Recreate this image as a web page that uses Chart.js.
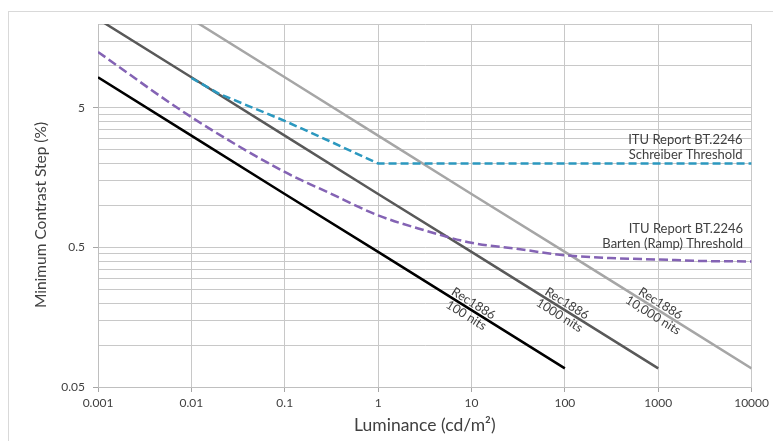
<!DOCTYPE html>
<html>
<head>
<meta charset="utf-8">
<script src="https://cdn.jsdelivr.net/npm/chart.js@4.4.1/dist/chart.umd.min.js"></script>
<style>
  html, body { margin: 0; padding: 0; background: #fff; overflow: hidden; }
  #wrap { position: relative; width: 773px; height: 441px; }
  #frame { position: absolute; left: 8px; top: 11px; width: 800px; height: 500px;
           border-left: 1px solid #d9d9d9; border-top: 1px solid #d9d9d9; }
  canvas { position: absolute; left: 0; top: 0; }
</style>
</head>
<body>
<div id="wrap">
  <div id="frame"></div>
  <canvas id="chart" width="773" height="441"></canvas>
</div>
<script>
// luminance (cd/m2) on x, minimum contrast step (%) on y
const xTickValues = [0.001, 0.01, 0.1, 1, 10, 100, 1000, 10000];
const yLabelValues = [0.05, 0.5, 5];
const yGridValues = [0.05, 0.1, 0.15, 0.2, 0.25, 0.3, 0.35, 0.4, 0.45,
                     0.5, 1, 1.5, 2, 2.5, 3, 3.5, 4, 4.5,
                     5, 10, 15, 20];

const schreiberX = [0.01, 0.02, 0.1, 0.3, 1, 10, 100, 1000, 10000];
const schreiberY = [8.2, 6.3, 4.04, 2.9, 2.0, 2.0, 2.0, 2.0, 2.0];

const bartenX = [0.001, 0.01, 0.1, 0.3, 1, 3, 10, 30, 100, 300, 1000, 3000, 10000];
const bartenY = [12.6, 4.3, 1.74, 1.23, 0.85, 0.67, 0.54, 0.49, 0.44, 0.42, 0.41, 0.40, 0.397];

const rec100X = [0.001, 0.01, 0.1, 1, 10, 100];
const rec100Y = [8.3, 3.17, 1.21, 0.465, 0.178, 0.068];

const rec1000X = [0.001, 0.01, 0.1, 1, 10, 100, 1000];
const rec1000Y = [21.7, 8.3, 3.17, 1.21, 0.465, 0.178, 0.068];

const rec10000X = [0.01, 0.1, 1, 10, 100, 1000, 10000];
const rec10000Y = [21.7, 8.3, 3.17, 1.21, 0.465, 0.178, 0.068];

const toPoints = (xs, ys) => xs.map((x, i) => ({ x: x, y: ys[i] }));

const FONT = 'Lato, "Open Sans", sans-serif';
const TEXT = '#404040';

// text notes placed in data coordinates
const notes = [
  { lines: ['ITU Report BT.2246', 'Schreiber Threshold'], x: 8000, y: 2.3, align: 'right' },
  { lines: ['ITU Report BT.2246', 'Barten (Ramp) Threshold'], x: 8100, y: 0.533, align: 'right' },
  { lines: ['Rec1886', '100 nits'], x: 9.6, y: 0.18, align: 'center', slanted: true },
  { lines: ['Rec1886', '1000 nits'], x: 96, y: 0.18, align: 'center', slanted: true },
  { lines: ['Rec1886', '10,000 nits'], x: 966, y: 0.18, align: 'center', slanted: true }
];

const notesPlugin = {
  id: 'notes',
  afterDatasetsDraw(chart) {
    const { ctx, scales: { x, y } } = chart;
    // slope of the Rec1886 lines in pixels
    const p0x = x.getPixelForValue(rec100X[0]), p0y = y.getPixelForValue(rec100Y[0]);
    const p1x = x.getPixelForValue(rec100X[rec100X.length - 1]);
    const p1y = y.getPixelForValue(rec100Y[rec100Y.length - 1]);
    const angle = Math.atan2(p1y - p0y, p1x - p0x);

    ctx.save();
    ctx.fillStyle = TEXT;
    ctx.textBaseline = 'middle';
    notes.forEach(n => {
      const px = x.getPixelForValue(n.x);
      const py = y.getPixelForValue(n.y);
      ctx.save();
      ctx.translate(px, py);
      if (n.slanted) {
        ctx.rotate(angle);
        ctx.font = '12.5px ' + FONT;
        ctx.textAlign = 'center';
        ctx.fillText(n.lines[0], 0, -7);
        ctx.fillText(n.lines[1], 0, 7);
      } else {
        ctx.font = '13px ' + FONT;
        ctx.textAlign = n.align;
        ctx.fillText(n.lines[0], 0, -15);
        ctx.fillText(n.lines[1], 0, 0);
      }
      ctx.restore();
    });

    // y axis title
    ctx.save();
    ctx.translate(40.5, 215);
    ctx.rotate(-Math.PI / 2);
    ctx.font = '15.5px ' + FONT;
    ctx.textAlign = 'center';
    ctx.fillText('Minimum Contrast Step (%)', 0, 0);
    ctx.restore();
    ctx.restore();
  }
};

new Chart(document.getElementById('chart'), {
  type: 'line',
  data: {
    datasets: [
      {
        label: 'Schreiber Threshold',
        data: toPoints(schreiberX, schreiberY),
        borderColor: '#2b98bf',
        borderWidth: 2.5,
        borderDash: [8, 4]
      },
      {
        label: 'Barten (Ramp) Threshold',
        data: toPoints(bartenX, bartenY),
        borderColor: '#8463b4',
        borderWidth: 2.5,
        borderDash: [9, 4],
        cubicInterpolationMode: 'monotone'
      },
      {
        label: 'Rec1886 100 nits',
        data: toPoints(rec100X, rec100Y),
        borderColor: '#000000',
        borderWidth: 2.5
      },
      {
        label: 'Rec1886 1000 nits',
        data: toPoints(rec1000X, rec1000Y),
        borderColor: '#595959',
        borderWidth: 2.5
      },
      {
        label: 'Rec1886 10,000 nits',
        data: toPoints(rec10000X, rec10000Y),
        borderColor: '#a6a6a6',
        borderWidth: 2.5
      }
    ]
  },
  options: {
    responsive: false,
    animation: false,
    events: [],
    layout: { padding: { left: 0, top: 24, right: 21, bottom: 0 } },
    elements: { point: { radius: 0 }, line: { tension: 0, fill: false } },
    plugins: { legend: { display: false }, tooltip: { enabled: false } },
    scales: {
      x: {
        type: 'logarithmic',
        min: 0.001,
        max: 10000,
        afterBuildTicks: s => { s.ticks = xTickValues.map(v => ({ value: v })); },
        afterFit: s => { s.height = 54; },
        ticks: {
          autoSkip: false,
          maxRotation: 0,
          minRotation: 0,
          padding: 4,
          color: TEXT,
          font: { family: FONT, size: 12 },
          callback: v => String(v)
        },
        grid: { color: '#c8c8c8', lineWidth: 1, tickLength: 5, tickColor: '#a6a6a6' },
        border: { color: '#bfbfbf' },
        title: {
          display: true,
          text: 'Luminance (cd/m²)',
          color: TEXT,
          font: { family: FONT, size: 17.5 },
          padding: { top: 0, bottom: 5 }
        }
      },
      y: {
        type: 'logarithmic',
        min: 0.05,
        max: 20,
        afterBuildTicks: s => { s.ticks = yGridValues.map(v => ({ value: v })); },
        afterFit: s => { s.width = 98; },
        ticks: {
          autoSkip: false,
          padding: 8,
          color: TEXT,
          font: { family: FONT, size: 12 },
          callback: v => yLabelValues.includes(v) ? String(v) : ''
        },
        grid: {
          color: '#c8c8c8',
          lineWidth: 1,
          tickLength: 5,
          tickColor: c => (c.tick && yLabelValues.includes(c.tick.value)) ? '#a6a6a6' : 'rgba(0,0,0,0)'
        },
        border: { color: '#bfbfbf' }
      }
    }
  },
  plugins: [notesPlugin]
});
</script>
</body>
</html>
